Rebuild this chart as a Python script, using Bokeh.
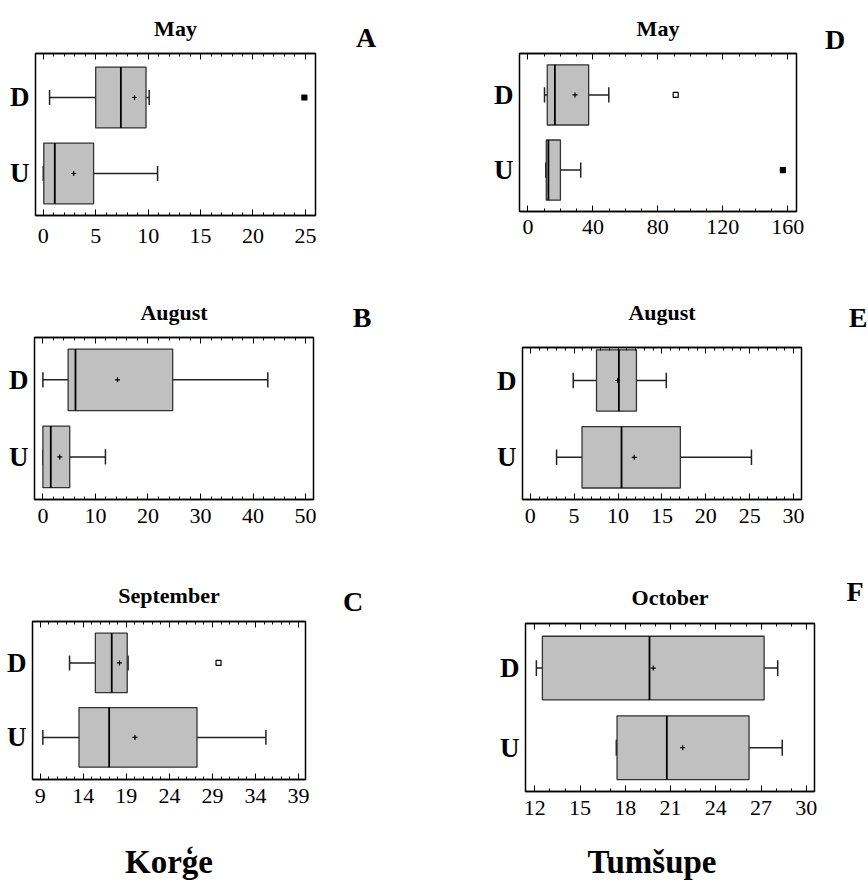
from bokeh.plotting import figure
from bokeh.models import Range1d, LinearAxis, FixedTicker, Div
from bokeh.layouts import column, row
from bokeh.embed import file_html
from bokeh.resources import INLINE

# ---------------- data ----------------
panel_letters = ["A", "B", "C", "D", "E", "F"]
panel_titles = ["May", "August", "September", "May", "August", "October"]
site_labels = ["Korģe", "Tumšupe"]
categories = ["U", "D"]

# per panel: [U, D]
whisker_low = [[0.0, 0.6], [0.0, 0.0], [9.3, 12.4], [11.0, 10.2], [3.0, 4.9], [17.4, 12.1]]
q1 = [[0.05, 5.0], [0.0, 4.8], [13.5, 15.4], [11.3, 11.9], [5.9, 7.55], [17.45, 12.5]]
median = [[1.1, 7.4], [1.5, 6.2], [17.0, 17.3], [12.6, 16.6], [10.4, 10.1], [20.75, 19.6]]
q3 = [[4.8, 9.8], [5.1, 24.7], [27.2, 19.1], [20.0, 37.4], [17.1, 12.1], [26.2, 27.2]]
whisker_high = [[10.9, 10.1], [11.9, 42.8], [35.2, 19.2], [32.5, 49.8], [25.2, 15.5], [28.4, 28.1]]
mean = [[2.9, 8.7], [3.2, 14.2], [20.0, 18.2], [None, 29.0], [11.85, 9.95], [21.8, 19.85]]
# outliers: panel index, category, value, far-out (filled) or not
outlier_panel = [0, 2, 3, 3]
outlier_cat = ["D", "D", "D", "U"]
outlier_value = [24.9, 29.7, 91.0, 157.0]
outlier_far = [True, False, False, True]

# axis ticks
x_major_ticks = [[0, 5, 10, 15, 20, 25], [0, 10, 20, 30, 40, 50], [9, 14, 19, 24, 29, 34, 39],
                 [0, 40, 80, 120, 160], [0, 5, 10, 15, 20, 25, 30], [12, 15, 18, 21, 24, 27, 30]]
x_minor_step = [1, 2, 1, 10, 1, 1]
x_ranges = [(-0.74, 25.96), (-1.6, 51.5), (8.1, 39.8), (-5.2, 165.4), (-0.88, 30.9), (11.38, 30.54)]
y_ranges = [(-0.053, 2.079), (-0.053, 2.05), (-0.066, 2.057), (-0.05, 2.05), (-0.05, 1.93), (-0.05, 2.06)]

# ---------------- layout (page pixel geometry) ----------------
# fig x0, y0, width, height, frame left, frame top, frame width, frame height
geom = [
    (0, 0, 335, 270, 35, 53, 280, 162),
    (0, 270, 335, 290, 34, 337, 279, 162),
    (0, 560, 335, 270, 32, 621, 273, 158),
    (430, 0, 392, 270, 519, 52, 277, 159),
    (430, 270, 392, 290, 522, 347, 279, 152),
    (430, 560, 392, 270, 525, 623, 289, 168),
]
title_standoff = [26, 25, 28, 26, 46, 28]
label_standoff = [13, 9, 9, 8, 9, 9]
letter_xy = [(366, 38), (362, 318), (353, 602), (835, 40), (858, 318), (855, 592)]
site_centers = [(169, 862), (652, 862)]
PAGE_W = 868
BOTTOM_H = 52

SERIF = "Liberation Serif"
BOX_H = 0.8
CAP_H = 0.2


def text_div(text, x0, y0, w, h, cx, cy, size):
    inner = (f'<div style="width:240px; margin:0; margin-left:{cx - x0 - 120}px; padding-top:{cy - y0 - size / 2}px; '
             f'text-align:center; font-family:\'{SERIF}\', serif; font-weight:bold; '
             f'font-size:{size}px; line-height:{size}px; white-space:nowrap; color:black;">{text}</div>')
    return Div(text=inner, width=w, height=h, margin=0, styles={"overflow": "visible"})


def make_panel(i):
    x0, y0, w, h, fl, ft, fw, fh = geom[i]
    p = figure(width=w, height=h, output_backend="svg", toolbar_location=None,
               x_range=Range1d(*x_ranges[i]), y_range=Range1d(*y_ranges[i]),
               min_border_left=fl - x0, min_border_right=w - (fl - x0) - fw,
               min_border_top=ft - y0, min_border_bottom=h - (ft - y0) - fh,
               title=panel_titles[i], margin=0)
    p.title.align = "center"
    p.title.text_font = SERIF
    p.title.text_font_style = "bold"
    p.title.text_font_size = "22px"
    p.title.text_color = "black"
    p.title.standoff = title_standoff[i]
    p.xgrid.visible = False
    p.ygrid.visible = False
    p.outline_line_color = "black"
    p.outline_line_width = 1.5
    p.background_fill_color = "white"
    p.border_fill_color = "white"

    lo, hi = x_ranges[i]
    minors = []
    v = x_major_ticks[i][0]
    while v - x_minor_step[i] >= lo:
        v -= x_minor_step[i]
    while v <= hi:
        minors.append(v)
        v += x_minor_step[i]

    def ticker():
        return FixedTicker(ticks=x_major_ticks[i], minor_ticks=minors)

    xa = p.xaxis[0]
    xa.ticker = ticker()
    xa.major_tick_in = 6
    xa.major_tick_out = 0
    xa.minor_tick_in = 3
    xa.minor_tick_out = 0
    xa.axis_line_color = "black"
    xa.axis_line_width = 1.5
    xa.major_label_standoff = label_standoff[i]
    xa.major_label_text_font = SERIF
    xa.major_label_text_font_size = "22px"
    xa.major_label_text_color = "black"

    top = LinearAxis(ticker=ticker(), major_tick_in=6, major_tick_out=0,
                     minor_tick_in=3, minor_tick_out=0, axis_line_width=1.5,
                     major_label_text_font_size="1px", major_label_text_color=None,
                     major_label_standoff=0)
    p.add_layout(top, "above")

    ya = p.yaxis[0]
    ypos = [k + 0.5 for k in range(len(categories))]
    ya.ticker = FixedTicker(ticks=ypos, minor_ticks=[])
    ya.major_label_overrides = {ypos[k]: categories[k] for k in range(len(categories))}
    ya.major_tick_in = 0
    ya.major_tick_out = 0
    ya.minor_tick_in = 0
    ya.minor_tick_out = 0
    ya.major_tick_line_color = None
    ya.minor_tick_line_color = None
    ya.axis_line_color = None
    ya.major_label_standoff = 6
    ya.major_label_text_font = SERIF
    ya.major_label_text_font_style = "bold"
    ya.major_label_text_font_size = "27px"
    ya.major_label_text_color = "black"

    wl, a, m, b, wh = whisker_low[i], q1[i], median[i], q3[i], whisker_high[i]
    lo_y = [y - CAP_H / 2 for y in ypos]
    hi_y = [y + CAP_H / 2 for y in ypos]
    p.segment(x0=wl, y0=ypos, x1=a, y1=ypos, line_color="#222222", line_width=1.5)
    p.segment(x0=b, y0=ypos, x1=wh, y1=ypos, line_color="#222222", line_width=1.5)
    p.segment(x0=wl, y0=lo_y, x1=wl, y1=hi_y, line_color="#222222", line_width=1.5)
    p.segment(x0=wh, y0=lo_y, x1=wh, y1=hi_y, line_color="#222222", line_width=1.5)
    p.hbar(y=ypos, height=BOX_H, left=a, right=b, fill_color="#c0c0c0",
           line_color="#333333", line_width=1.3)
    p.segment(x0=m, y0=[y - BOX_H / 2 for y in ypos], x1=m, y1=[y + BOX_H / 2 for y in ypos],
              line_color="black", line_width=1.8)
    mx = [mv for mv in mean[i] if mv is not None]
    my = [ypos[k] for k, mv in enumerate(mean[i]) if mv is not None]
    p.scatter(x=mx, y=my, marker="cross", size=5, line_color="black", line_width=1.2)
    for k in range(len(outlier_value)):
        if outlier_panel[k] != i:
            continue
        yy = ypos[categories.index(outlier_cat[k])]
        p.scatter(x=[outlier_value[k]], y=[yy], marker="square", size=5,
                  fill_color="black" if outlier_far[k] else "white",
                  line_color="black", line_width=1.2)
    return p


rows = []
for left_i, right_i in [(0, 3), (1, 4), (2, 5)]:
    pl = make_panel(left_i)
    pr = make_panel(right_i)
    gx0, gy0, gw, gh = geom[left_i][:4]
    rx0, ry0, rw, rh = geom[right_i][:4]
    dl_x0 = gx0 + gw
    dl = text_div(panel_letters[left_i], dl_x0, gy0, rx0 - dl_x0, gh,
                  letter_xy[left_i][0], letter_xy[left_i][1], 28)
    dr_x0 = rx0 + rw
    dr = text_div(panel_letters[right_i], dr_x0, ry0, PAGE_W - dr_x0, rh,
                  letter_xy[right_i][0], letter_xy[right_i][1], 28)
    rows.append(row(column(pl, margin=0), dl, column(pr, margin=0), dr, spacing=0, margin=0))

y_bottom = geom[2][1] + geom[2][3]
sites = row(text_div(site_labels[0], 0, y_bottom, 430, BOTTOM_H, site_centers[0][0], site_centers[0][1], 33),
            text_div(site_labels[1], 430, y_bottom, 430, BOTTOM_H, site_centers[1][0], site_centers[1][1], 33),
            spacing=0, margin=0)
layout = column(*rows, sites, spacing=0, margin=0)

open("out.html", "w").write(file_html(layout, INLINE))
